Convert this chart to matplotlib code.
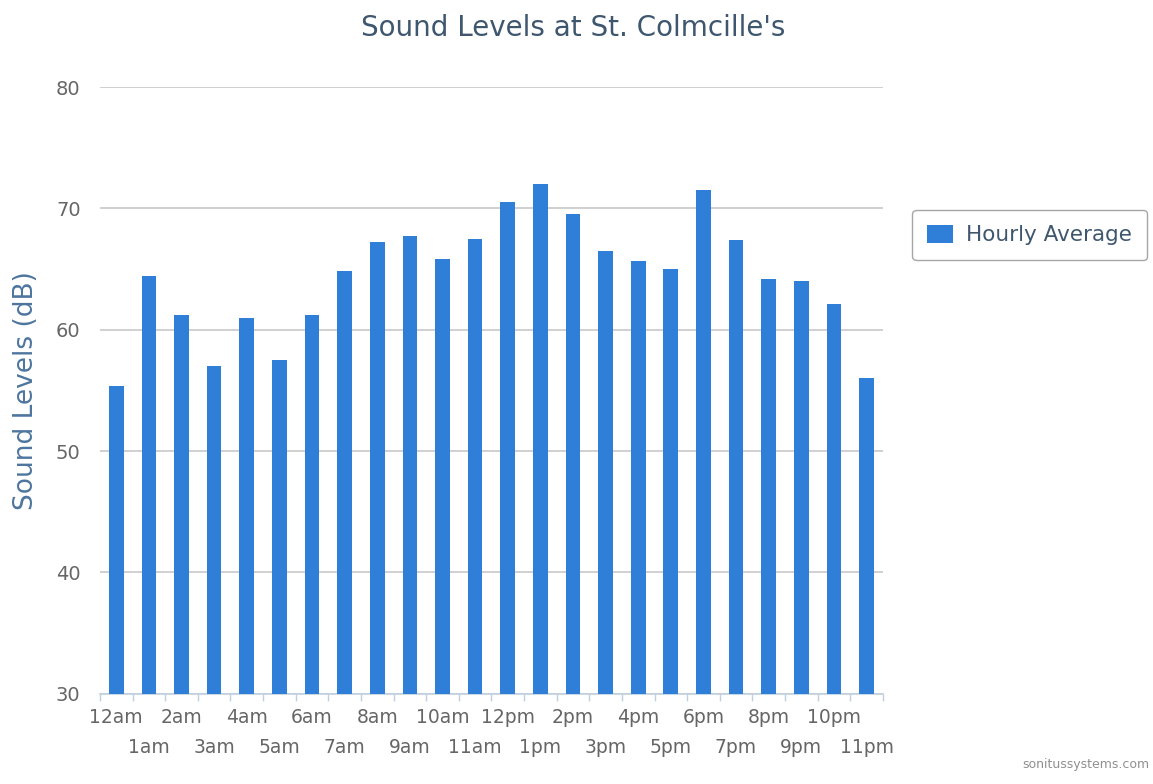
import numpy as np
import matplotlib.pyplot as plt
from matplotlib.ticker import FixedLocator

hours = ["12am", "1am", "2am", "3am", "4am", "5am", "6am", "7am", "8am", "9am",
         "10am", "11am", "12pm", "1pm", "2pm", "3pm", "4pm", "5pm", "6pm", "7pm",
         "8pm", "9pm", "10pm", "11pm"]
hourly_avg = [55.4, 64.4, 61.2, 57.0, 61.0, 57.5, 61.2, 64.8, 67.2, 67.7,
              65.8, 67.5, 70.5, 72.0, 69.5, 66.5, 65.7, 65.0, 71.5, 67.4,
              64.2, 64.0, 62.1, 56.0]
y_ticks = [30, 40, 50, 60, 70, 80]

plt.rcParams["font.family"] = ["DejaVu Sans"]

fig = plt.figure(figsize=(11.53, 7.84), dpi=100)
ax = fig.add_axes([0.0867, 0.115, 0.679, 0.774])

x = np.arange(len(hours))
ax.bar(x, hourly_avg, width=0.45, color="#2f7ed8", label="Hourly Average", zorder=3)

ax.set_xlim(-0.5, len(hours) - 0.5)
ax.set_ylim(30, 80)
ax.set_yticks(y_ticks)
ax.grid(axis="y", color="#c8c8c8", linewidth=1.2, zorder=0)

ax.set_xticks(x)
ax.set_xticklabels(hours, fontsize=13.5, color="#666666")
ax.tick_params(axis="x", length=0, pad=10)
# staggered labels: odd hours drop to a second row
for i, tick in enumerate(ax.xaxis.get_major_ticks()):
    if i % 2 == 1:
        tick.set_pad(32)
ax.xaxis.set_minor_locator(FixedLocator(np.arange(-0.5, len(hours), 1)))
ax.tick_params(axis="x", which="minor", length=5, color="#c0d0e0", width=1)
ax.tick_params(axis="y", length=0, pad=14, labelsize=14, labelcolor="#666666")

for side in ["top", "right", "left"]:
    ax.spines[side].set_visible(False)
ax.spines["bottom"].set_color("#c0d0e0")
ax.spines["bottom"].set_linewidth(1.2)

ax.set_ylabel("Sound Levels (dB)", fontsize=19, color="#4d759e", labelpad=12)
fig.suptitle("Sound Levels at St. Colmcille's", fontsize=20, color="#3e576f",
             x=0.497, y=0.982, va="top")

leg = fig.legend(loc="center left", bbox_to_anchor=(0.782, 0.7),
                 fontsize=15.5, frameon=True, fancybox=True, edgecolor="#909090",
                 handlelength=1.2, handleheight=0.9, handletextpad=0.6,
                 borderpad=0.7)
for t in leg.get_texts():
    t.set_color("#3e576f")

fig.text(0.997, 0.016, "sonitussystems.com", ha="right", va="bottom",
         fontsize=9, color="#909090")

fig.savefig("out.png", dpi=100)
